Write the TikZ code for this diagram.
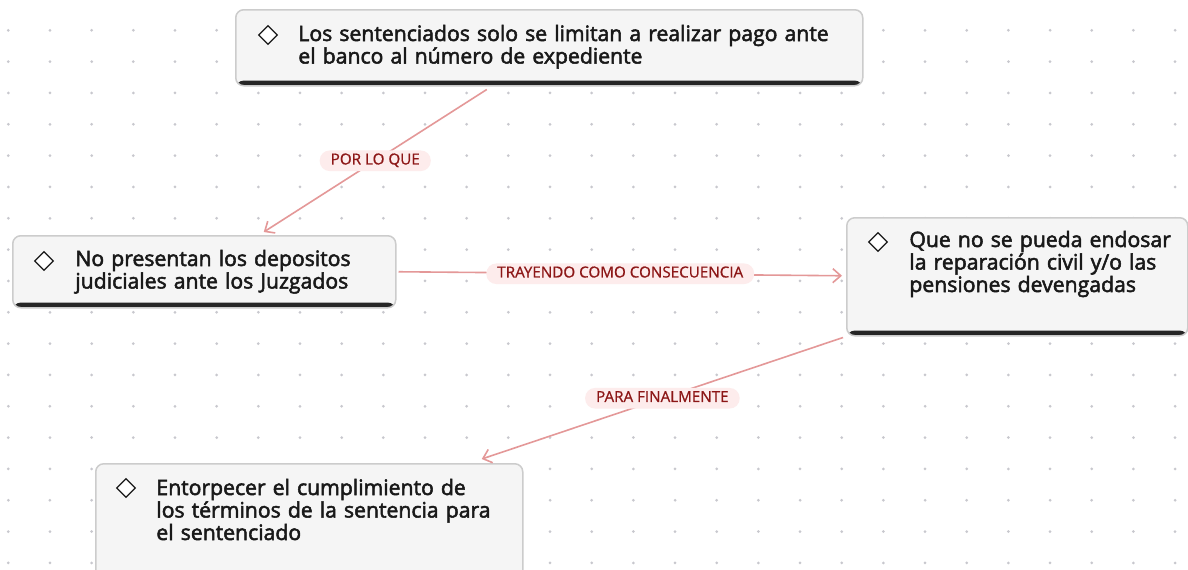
\documentclass[tikz,border=0pt]{standalone}
\usepackage{fontspec}
\usetikzlibrary{shapes.geometric,arrows.meta}
\setmainfont{Open Sans}
\newfontfamily\cardfont{Open Sans}[FakeBold=2.4]
\newfontfamily\labfont{Open Sans}[FakeBold=0.8]
\definecolor{dotgray}{RGB}{200,200,206}
\definecolor{cardfill}{RGB}{245,245,245}
\definecolor{cardline}{RGB}{204,204,204}
\definecolor{barcol}{RGB}{38,38,38}
\definecolor{linkpink}{RGB}{228,152,152}
\definecolor{labfill}{RGB}{253,236,236}
\definecolor{labtext}{RGB}{140,22,22}
\definecolor{txt}{RGB}{25,25,25}

\begin{document}
\begin{tikzpicture}[x=0.5pt,y=-0.5pt,
    card/.style={draw=cardline, fill=cardfill, line width=0.75pt, rounded corners=4pt,
        anchor=north west, inner sep=0pt,
        path picture={\fill[barcol] (path picture bounding box.south west) rectangle
            ([yshift=2.6pt]path picture bounding box.south east);}},
    diam/.style={diamond, draw=txt, fill=white, line width=0.6pt, minimum size=9.5pt, inner sep=0pt},
    cardtext/.style={anchor=base west, inner sep=0pt, align=left, text=txt,
        font=\cardfont\fontsize{10.6}{11.25}\selectfont},
    link/.style={draw=linkpink, line width=0.8pt, -{Straight Barb[length=4pt,width=7pt]}},
    lab/.style={fill=labfill, text=labtext, rounded corners=5pt, inner xsep=5.5pt, inner ysep=2pt,
        text height=5pt, text depth=1.3pt, font=\labfont\fontsize{7.6}{8}\selectfont}]

    \useasboundingbox (0,0) rectangle (1188,569);
    \clip (0,0) rectangle (1188,569);
    \fill[white] (0,0) rectangle (1188,569);
    \foreach \i in {0,...,28}
        \foreach \j in {0,...,17}
            \fill[dotgray] (8.3+41.67*\i,30.3+31.33*\j) circle[radius=0.75pt];

    \node[card, minimum width=313.5pt, minimum height=38pt] (c1) at (235,9) {};
    \node[card, minimum width=191.5pt, minimum height=36pt] (c2) at (12,235) {};
    \node[card, minimum width=170.5pt, minimum height=59pt] (c3) at (846,217) {};
    \node[card, minimum width=213.5pt, minimum height=80pt] (c4) at (95,463) {};

    \node[diam] (d1) at ([shift={(33,26)}]c1.north west) {};
    \node[diam] (d2) at ([shift={(32,26)}]c2.north west) {};
    \node[diam] (d3) at ([shift={(32,25)}]c3.north west) {};
    \node[diam] (d4) at ([shift={(31,25)}]c4.north west) {};

    \node[cardtext, text width=290pt] (t1) at ([shift={(63,32)}]c1.north west)
        {Los sentenciados solo se limitan a realizar pago ante\\el banco al número de expediente};
    \node[cardtext, text width=150pt] (t2) at ([shift={(63,31)}]c2.north west)
        {No presentan los depositos\\judiciales ante los Juzgados};
    \node[cardtext, text width=135pt] (t3) at ([shift={(63,30)}]c3.north west)
        {Que no se pueda endosar\\la reparación civil y/o las\\pensiones devengadas};
    \node[cardtext, text width=180pt] (t4) at ([shift={(61,32)}]c4.north west)
        {Entorpecer el cumplimiento de\\los términos de la sentencia para\\el sentenciado};

    \path
    ([shift={(-62.5,3)}]c1.south) edge[link] node[lab] {POR LO QUE} ([shift={(59.5,-3)}]c2.north)
    ([shift={(2,0)}]c2.east) edge[link] node[lab] {TRAYENDO COMO CONSECUENCIA} ([shift={(-4,-1)}]c3.west)
    ([shift={(-3,1)}]c3.south west) edge[link] node[lab] {PARA FINALMENTE} ([shift={(172.5,-4)}]c4.north);

\end{tikzpicture}
\end{document}
